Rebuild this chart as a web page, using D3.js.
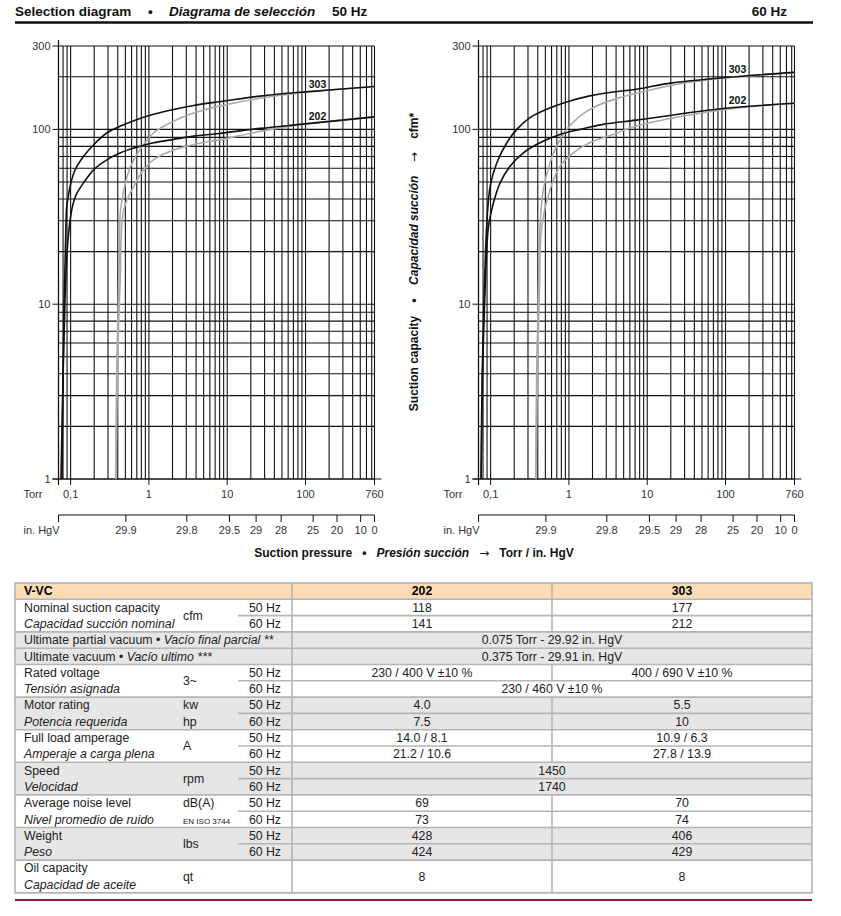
<!DOCTYPE html>
<html>
<head>
<meta charset="utf-8">
<script src="https://cdn.jsdelivr.net/npm/d3@7"></script>
<style>
body { margin: 0; background: #fff; }
text { font-family: "Liberation Sans", Arial, Helvetica, sans-serif; }
</style>
</head>
<body>
<svg id="fig" width="841" height="916"></svg>
<script>
// suction capacity curves, [Torr, cfm]
const hz50_303 = [[0.0776,1],[0.0799,3.7],[0.0823,9.9],[0.086,21.8],[0.0891,36.1],[0.0931,41],[0.0982,47],[0.1137,58.6],[0.145,69.8],[0.198,82],[0.293,95.7],[0.434,104.5],[0.707,114],[1.15,122],[2.07,130],[3.72,137],[7.4,143.5],[26.3,155],[100,164],[760,176]];
const hz50_202 = [[0.0753,1],[0.0799,3.7],[0.0848,10.6],[0.0886,16.8],[0.0926,23.3],[0.1032,34.6],[0.1171,42.1],[0.145,49.2],[0.198,58.9],[0.293,67.2],[0.434,73.5],[0.707,79.1],[1.15,83.9],[2.07,87.7],[3.72,91.5],[7.4,94.5],[26.3,101.3],[100,107.5],[760,118]];
const hz50_303g = [[0.376,1],[0.39,5],[0.41,12],[0.42,20],[0.434,34.7],[0.527,53.9],[0.64,67.2],[0.859,82],[1.15,95.7],[1.71,106.8],[2.77,118.3],[4.53,127.4],[7.4,135],[26.3,150.7],[100,163],[760,176]];
const hz50_202g = [[0.378,1],[0.40,5],[0.43,14],[0.477,34.7],[0.64,47.2],[0.859,58.9],[1.15,67.2],[1.88,75],[3.07,80.2],[5.51,85],[7.4,86.5],[26.3,97.4],[100,107.5],[760,118]];

const hz60_303 = [[0.0755,1],[0.078,4],[0.083,12],[0.0895,29.1],[0.0986,47.2],[0.120,64.4],[0.161,83.9],[0.216,100],[0.318,116.7],[0.52,130.3],[0.935,143.5],[1.85,155.5],[3.67,163.8],[7.28,169.8],[20,184],[100,198],[760,212]];
const hz60_202 = [[0.0757,1],[0.079,4],[0.085,12],[0.0938,27.8],[0.1086,37.9],[0.132,49.4],[0.177,61.5],[0.262,73.5],[0.427,83.9],[0.768,93.6],[1.38,100],[2.73,106.8],[7.28,113],[100,132],[760,141]];
const hz60_303g = [[0.376,1],[0.39,5],[0.41,13],[0.427,27.8],[0.471,45.2],[0.573,64.4],[0.697,80.2],[0.935,100],[1.38,119.2],[2.25,136],[4.05,150],[7.28,161],[25,182],[100,197],[760,212]];
const hz60_202g = [[0.378,1],[0.40,5],[0.42,12],[0.449,27.8],[0.573,45.2],[0.768,61.5],[1.135,73.5],[1.85,83.9],[3.67,93.6],[7.28,104.5],[100,130],[760,141]];

// axes
const torrDomain = [0.07, 760];
const cfmDomain = [1, 300];
const torrTicks = [0.1, 1, 10, 100, 760];
const torrLabels = ["0,1", "1", "10", "100", "760"];
const cfmTicks = [1, 10, 100, 300];
const hgTicks = [29.9, 29.8, 29.5, 29, 28, 25, 20, 10, 0];

// table
const models = ["202", "303"];
const specRows = [
  { en: "Nominal suction capacity", es: "Capacidad succión nominal", unit: ["cfm"], hz: true, cells: [["118", "177"], ["141", "212"]], shade: false },
  { en: "Ultimate partial vacuum", es: "Vacío final parcial **", inline: true, cells: [["0.075 Torr - 29.92 in. HgV"]], shade: true },
  { en: "Ultimate vacuum", es: "Vacío ultimo ***", inline: true, cells: [["0.375 Torr - 29.91 in. HgV"]], shade: true },
  { en: "Rated voltage", es: "Tensión asignada", unit: ["3~"], hz: true, cells: [["230 / 400 V ±10 %", "400 / 690 V ±10 %"], ["230 / 460 V ±10 %"]], shade: false },
  { en: "Motor rating", es: "Potencia requerida", unit: ["kw", "hp"], hz: true, cells: [["4.0", "5.5"], ["7.5", "10"]], shade: true },
  { en: "Full load amperage", es: "Amperaje a carga plena", unit: ["A"], hz: true, cells: [["14.0 / 8.1", "10.9 / 6.3"], ["21.2 / 10.6", "27.8 / 13.9"]], shade: false },
  { en: "Speed", es: "Velocidad", unit: ["rpm"], hz: true, cells: [["1450"], ["1740"]], shade: true },
  { en: "Average noise level", es: "Nivel promedio de ruido", unit: ["dB(A)", "EN ISO 3744"], hz: true, cells: [["69", "70"], ["73", "74"]], shade: false },
  { en: "Weight", es: "Peso", unit: ["lbs"], hz: true, cells: [["428", "406"], ["424", "429"]], shade: true },
  { en: "Oil capacity", es: "Capacidad de aceite", unit: ["qt"], hz: false, cells: [["8", "8"]], shade: false }
];

const svg = d3.select("#fig");

// header
const head = svg.append("text").attr("y", 16).style("font-size", "13.5px").style("font-weight", "bold").attr("fill", "#111");
head.append("tspan").attr("x", 15).text("Selection diagram");
head.append("tspan").attr("x", 148).text("•");
head.append("tspan").attr("x", 169).style("font-style", "italic").text("Diagrama de selección");
head.append("tspan").attr("x", 332).text("50 Hz");
svg.append("text").attr("x", 787).attr("y", 16).attr("text-anchor", "end")
  .style("font-size", "13.5px").style("font-weight", "bold").attr("fill", "#111").text("60 Hz");
svg.append("line").attr("x1", 15).attr("x2", 813).attr("y1", 22.5).attr("y2", 22.5)
  .attr("stroke", "#111").attr("stroke-width", 2.5);

function valueAt(series, t) {
  for (let i = 1; i < series.length; i++) {
    const [t0, c0] = series[i - 1], [t1, c1] = series[i];
    if (t >= t0 && t <= t1) {
      const f = (Math.log(t) - Math.log(t0)) / (Math.log(t1) - Math.log(t0));
      return Math.exp(Math.log(c0) + f * (Math.log(c1) - Math.log(c0)));
    }
  }
  return series[series.length - 1][1];
}

function panel(left, series) {
  const x = d3.scaleLog().domain(torrDomain).range([left, left + 316]);
  const y = d3.scaleLog().domain(cfmDomain).range([479, 46]);
  const g = svg.append("g");

  // grid
  const xg = x.ticks().filter(d => d >= torrDomain[0] - 1e-9 && d <= torrDomain[1]).concat([760]);
  g.selectAll(".vg").data(xg).join("line")
    .attr("x1", d => x(d)).attr("x2", d => x(d)).attr("y1", y(300)).attr("y2", y(1))
    .attr("stroke", "#111").attr("stroke-width", 1.1);
  const yg = y.ticks().filter(d => d <= 300);
  g.selectAll(".hg").data(yg).join("line")
    .attr("x1", x(torrDomain[0])).attr("x2", x(760)).attr("y1", d => y(d)).attr("y2", d => y(d))
    .attr("stroke", "#111").attr("stroke-width", 1.1);

  // axes lines
  g.append("line").attr("x1", x(torrDomain[0])).attr("x2", x(torrDomain[0])).attr("y1", 40).attr("y2", 485)
    .attr("stroke", "#111").attr("stroke-width", 1.2);
  g.append("line").attr("x1", x(torrDomain[0]) - 6).attr("x2", x(760) + 7).attr("y1", y(1)).attr("y2", y(1))
    .attr("stroke", "#111").attr("stroke-width", 1.2);

  // y ticks
  g.selectAll(".yt").data(cfmTicks).join("line")
    .attr("x1", x(torrDomain[0]) - 6).attr("x2", x(torrDomain[0])).attr("y1", d => y(d)).attr("y2", d => y(d))
    .attr("stroke", "#111");
  g.selectAll(".yl").data(cfmTicks).join("text")
    .attr("x", x(torrDomain[0]) - 8).attr("y", d => y(d) + 4).attr("text-anchor", "end")
    .style("font-size", "11px").attr("fill", "#333").text(d => d);

  // torr ticks
  g.selectAll(".xt").data([torrDomain[0]].concat(torrTicks)).join("line")
    .attr("x1", d => x(d)).attr("x2", d => x(d)).attr("y1", y(1)).attr("y2", y(1) + 6)
    .attr("stroke", "#111");
  g.selectAll(".xl").data(torrTicks).join("text")
    .attr("x", d => x(d)).attr("y", 498).attr("text-anchor", "middle")
    .style("font-size", "11px").attr("fill", "#333").text((d, i) => torrLabels[i]);
  g.append("text").attr("x", left - 35).attr("y", 498).style("font-size", "11px").attr("fill", "#333").text("Torr");

  // in. HgV axis
  const hgToTorr = v => Math.max(760 * (1 - v / 29.92), torrDomain[0]);
  g.append("line").attr("x1", x(torrDomain[0])).attr("x2", x(760)).attr("y1", 515).attr("y2", 515)
    .attr("stroke", "#111").attr("stroke-width", 1.2);
  g.selectAll(".ht").data([29.92].concat(hgTicks)).join("line")
    .attr("x1", d => x(hgToTorr(d))).attr("x2", d => x(hgToTorr(d))).attr("y1", 515).attr("y2", 522)
    .attr("stroke", "#111");
  g.selectAll(".hl").data(hgTicks).join("text")
    .attr("x", d => x(hgToTorr(d))).attr("y", 534).attr("text-anchor", "middle")
    .style("font-size", "11px").attr("fill", "#333").text(d => d);
  g.append("text").attr("x", left - 35).attr("y", 534).style("font-size", "11px").attr("fill", "#333").text("in. HgV");

  // curves
  const line = d3.line().x(d => x(d[0])).y(d => y(d[1])).curve(d3.curveCatmullRom.alpha(0.5));
  series.forEach(s => {
    g.append("path").attr("d", line(s.data)).attr("fill", "none")
      .attr("stroke", s.color).attr("stroke-width", 1.6);
  });
  series.filter(s => s.label).forEach(s => {
    g.append("text").attr("x", x(110)).attr("y", y(valueAt(s.data, 110)) - 4)
      .style("font-size", "10.5px").style("font-weight", "bold").attr("fill", "#111").text(s.label);
  });
}

panel(58.5, [
  { data: hz50_303g, color: "#aaa" },
  { data: hz50_202g, color: "#aaa" },
  { data: hz50_303, color: "#111", label: "303" },
  { data: hz50_202, color: "#111", label: "202" }
]);
panel(478.5, [
  { data: hz60_303g, color: "#aaa" },
  { data: hz60_202g, color: "#aaa" },
  { data: hz60_303, color: "#111", label: "303" },
  { data: hz60_202, color: "#111", label: "202" }
]);

// axis titles
const yt = svg.append("text").attr("xml:space", "preserve").attr("transform", "translate(418,262) rotate(-90)").attr("text-anchor", "middle")
  .style("font-size", "12px").style("font-weight", "bold").attr("fill", "#111");
yt.append("tspan").text("Suction capacity    •    ");
yt.append("tspan").style("font-style", "italic").text("Capacidad succión");
yt.append("tspan").text("    ");
yt.append("tspan").style("font-family", "DejaVu Sans").style("font-weight", "normal").text("→");
yt.append("tspan").text("    cfm*");

const xt = svg.append("text").attr("xml:space", "preserve").attr("x", 414).attr("y", 557).attr("text-anchor", "middle")
  .style("font-size", "12px").style("font-weight", "bold").attr("fill", "#111");
xt.append("tspan").text("Suction pressure   •   ");
xt.append("tspan").style("font-style", "italic").text("Presión succión");
xt.append("tspan").text("   ");
xt.append("tspan").style("font-family", "DejaVu Sans").style("font-weight", "normal").text("→");
xt.append("tspan").text("   Torr / in. HgV");

// table
const T = { x0: 15, xs: 238, x1: 292, x2: 552, x3: 812, top: 583, rh: 16.3 };
const tg = svg.append("g");
const fs = "12.3px";
tg.append("rect").attr("x", T.x0).attr("y", T.top).attr("width", T.x3 - T.x0).attr("height", T.rh).attr("fill", "#fbdcb6");
tg.append("text").attr("x", 24).attr("y", T.top + 12.3).style("font-size", fs).style("font-weight", "bold").text("V-VC");
models.forEach((m, i) => {
  const cx = i === 0 ? (T.x1 + T.x2) / 2 : (T.x2 + T.x3) / 2;
  tg.append("text").attr("x", cx).attr("y", T.top + 12.3).attr("text-anchor", "middle")
    .style("font-size", fs).style("font-weight", "bold").text(m);
});

let ty = T.top + T.rh;
const hLines = [];
specRows.forEach(r => {
  const n = r.inline ? 1 : 2;
  const h = n * T.rh;
  if (r.shade) tg.append("rect").attr("x", T.x0).attr("y", ty).attr("width", T.x3 - T.x0).attr("height", h).attr("fill", "#e6e6e6");
  // labels
  if (r.inline) {
    const t = tg.append("text").attr("x", 24).attr("y", ty + 12.3).style("font-size", fs).attr("fill", "#222");
    t.append("tspan").text(r.en + " • ");
    t.append("tspan").style("font-style", "italic").text(r.es);
  } else {
    tg.append("text").attr("x", 24).attr("y", ty + 12.3).style("font-size", fs).attr("fill", "#222").text(r.en);
    tg.append("text").attr("x", 24).attr("y", ty + T.rh + 12.3).style("font-size", fs).style("font-style", "italic").attr("fill", "#222").text(r.es);
  }
  // units
  if (r.unit) {
    if (r.unit.length === 1) {
      tg.append("text").attr("x", 183).attr("y", ty + h / 2 + 4.3).style("font-size", fs).attr("fill", "#222").text(r.unit[0]);
    } else {
      r.unit.forEach((u, i) => {
        tg.append("text").attr("x", 183).attr("y", ty + i * T.rh + 12.3)
          .style("font-size", u.length > 6 ? "8px" : fs).attr("fill", "#222").text(u);
      });
    }
  }
  if (r.hz) {
    ["50 Hz", "60 Hz"].forEach((z, i) => {
      tg.append("text").attr("x", 281).attr("y", ty + i * T.rh + 12.3).attr("text-anchor", "end")
        .style("font-size", fs).attr("fill", "#222").text(z);
    });
    hLines.push({ x1: T.xs, y: ty + T.rh });
  }
  // values
  const sub = r.cells.length;
  r.cells.forEach((c, i) => {
    const yy = sub === 1 ? ty + h / 2 + 4.3 : ty + i * T.rh + 12.3;
    if (c.length === 1) {
      tg.append("text").attr("x", T.x2).attr("y", yy).attr("text-anchor", "middle").style("font-size", fs).attr("fill", "#222").text(c[0]);
    } else {
      tg.append("text").attr("x", (T.x1 + T.x2) / 2).attr("y", yy).attr("text-anchor", "middle").style("font-size", fs).attr("fill", "#222").text(c[0]);
      tg.append("text").attr("x", (T.x2 + T.x3) / 2).attr("y", yy).attr("text-anchor", "middle").style("font-size", fs).attr("fill", "#222").text(c[1]);
      const y0 = sub === 1 ? ty : ty + i * T.rh;
      const y1 = sub === 1 ? ty + h : y0 + T.rh;
      tg.append("line").attr("x1", T.x2).attr("x2", T.x2).attr("y1", y0).attr("y2", y1).attr("stroke", "#b5b5b5").attr("stroke-width", 1.6);
    }
  });
  ty += h;
  hLines.push({ x1: T.x0, y: ty });
});
hLines.unshift({ x1: T.x0, y: T.top + T.rh });
hLines.forEach(l => {
  tg.append("line").attr("x1", l.x1).attr("x2", T.x3).attr("y1", l.y).attr("y2", l.y).attr("stroke", "#b5b5b5").attr("stroke-width", 1.6);
});
// column dividers and frame
tg.append("line").attr("x1", T.x2).attr("x2", T.x2).attr("y1", T.top).attr("y2", T.top + T.rh).attr("stroke", "#b5b5b5").attr("stroke-width", 1.6);
tg.append("line").attr("x1", T.x1).attr("x2", T.x1).attr("y1", T.top).attr("y2", ty).attr("stroke", "#b5b5b5").attr("stroke-width", 1.6);
tg.append("rect").attr("x", T.x0).attr("y", T.top).attr("width", T.x3 - T.x0).attr("height", ty - T.top)
  .attr("fill", "none").attr("stroke", "#b5b5b5").attr("stroke-width", 1.6);
svg.append("line").attr("x1", 15).attr("x2", 812).attr("y1", 900).attr("y2", 900).attr("stroke", "#8a1c3c").attr("stroke-width", 2);
</script>
</body>
</html>
